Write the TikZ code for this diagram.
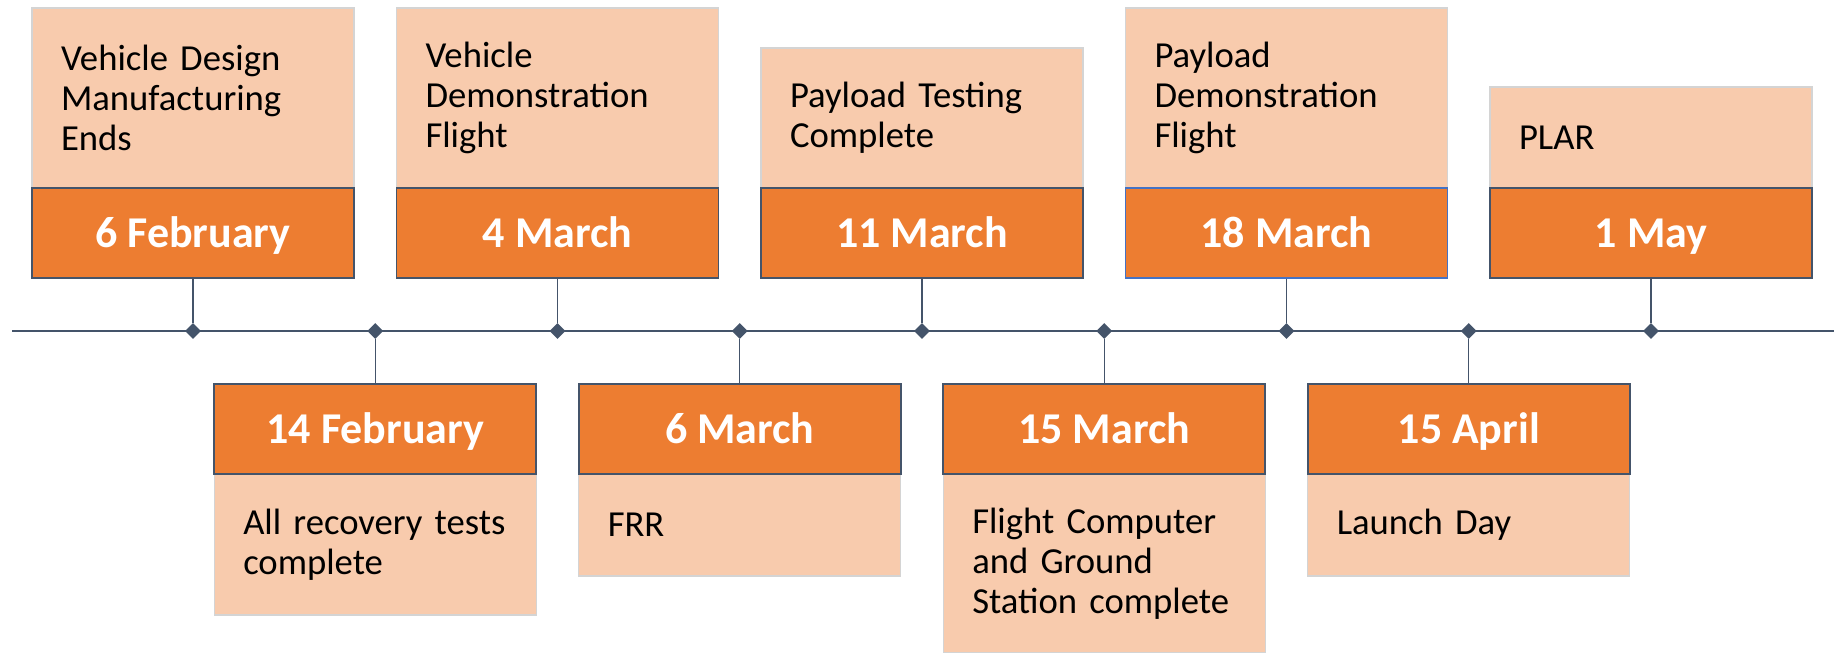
\documentclass[tikz,border=0pt]{standalone}
\usepackage{fontspec}
\setmainfont{Carlito}
\usetikzlibrary{shapes.geometric}
\definecolor{orng}{HTML}{ED7D31}
\definecolor{peach}{HTML}{F8CBAD}
\definecolor{slate}{HTML}{44546A}
\definecolor{pgray}{HTML}{D4D4D4}
\definecolor{selblue}{HTML}{4472C4}
\begin{document}
\begin{tikzpicture}[x=0.75pt,y=-0.75pt,
  datebox/.style={fill=orng, draw=slate, line width=1.3pt, minimum width=241.5pt,
    minimum height=67.5pt, inner sep=0pt, text=white, text height=24pt, text depth=3pt,
    font=\fontsize{33}{36}\selectfont\bfseries},
  notebox/.style={fill=peach, draw=pgray, line width=1pt, text width=198pt,
    inner xsep=21.75pt, inner ysep=0pt, align=left,
    font=\fontsize{27.5}{30}\selectfont},
  tick/.style={shape=diamond, fill=slate, minimum width=12pt, minimum height=12pt, inner sep=0pt},
  conn/.style={draw=slate, line width=0.8pt},
  axis/.style={draw=slate, line width=1.8pt}]
\useasboundingbox (0,0) rectangle (1843,653);

% timeline
\coordinate (tl0) at (12,331);
\coordinate (tl1) at (1834,331);
\draw[axis] (tl0) -- (tl1);
\foreach \i in {0,...,8}{
  \node[tick] (d\i) at ({193+182.25*\i},331) {};
}

% top events
\node[notebox, minimum height=135pt] (n1) at (193,98) {Vehicle Design\\Manufacturing\\Ends};
\node[datebox] (t1) at (193,233) {6 February};

\node[notebox, minimum height=135pt] (n3) at (557.5,98) {Vehicle\\Demonstration\\Flight};
\node[datebox] (t3) at (557.5,233) {4 March};

\node[notebox, minimum height=105pt] (n5) at (922,118) {Payload Testing\\Complete};
\node[datebox] (t5) at (922,233) {11 March};

\node[notebox, minimum height=135pt] (n7) at (1286.5,98) {Payload\\Demonstration\\Flight};
\node[datebox, draw=selblue] (t7) at (1286.5,233) {18 March};

\node[notebox, minimum height=75.75pt] (n9) at (1651,137.5) {PLAR};
\node[datebox] (t9) at (1651,233) {1 May};

% bottom events
\node[notebox, minimum height=105.75pt] (n2) at (375.25,544.5) {All recovery tests\\complete};
\node[datebox] (t2) at (375.25,429) {14 February};

\node[notebox, minimum height=76.5pt] (n4) at (739.75,525) {FRR};
\node[datebox] (t4) at (739.75,429) {6 March};

\node[notebox, minimum height=134.25pt] (n6) at (1104.25,563.5) {Flight Computer\\and Ground\\Station complete};
\node[datebox] (t6) at (1104.25,429) {15 March};

\node[notebox, minimum height=76.5pt] (n8) at (1468.75,525) {Launch Day};
\node[datebox] (t8) at (1468.75,429) {15 April};

% connectors
\draw[conn] (t1.south) -- (d0.north);
\draw[conn] (t2.north) -- (d1.south);
\draw[conn] (t3.south) -- (d2.north);
\draw[conn] (t4.north) -- (d3.south);
\draw[conn] (t5.south) -- (d4.north);
\draw[conn] (t6.north) -- (d5.south);
\draw[conn] (t7.south) -- (d6.north);
\draw[conn] (t8.north) -- (d7.south);
\draw[conn] (t9.south) -- (d8.north);
\end{tikzpicture}
\end{document}
